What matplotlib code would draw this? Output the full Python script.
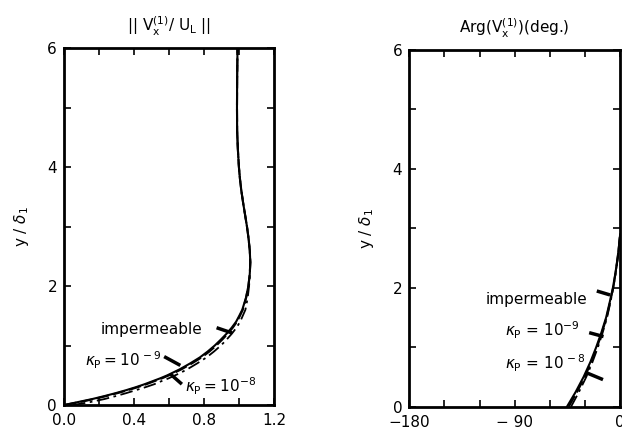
import matplotlib
matplotlib.use("Agg")
import matplotlib.pyplot as plt
import numpy as np

# ---- data: left panel |Vx/UL| vs y/delta1 ----
y_amp = [0.0, 0.05, 0.1, 0.15, 0.2, 0.25, 0.3, 0.35, 0.4, 0.45, 0.5, 0.55, 0.6, 0.7, 0.8, 0.9, 1.0,
         1.1, 1.2, 1.3, 1.4, 1.5, 1.6, 1.8, 2.0, 2.2, 2.4, 2.6, 2.8, 3.0, 3.2, 3.4, 3.6, 3.8, 4.0,
         4.3, 4.6, 5.0, 5.5, 6.0]
amp_imp = [0.0, 0.08, 0.16, 0.23, 0.295, 0.355, 0.41, 0.46, 0.505, 0.55, 0.59, 0.625, 0.66, 0.72,
           0.775, 0.82, 0.86, 0.895, 0.928, 0.957, 0.982, 1.0, 1.017, 1.038, 1.052, 1.06, 1.063,
           1.06, 1.053, 1.044, 1.033, 1.022, 1.012, 1.004, 0.998, 0.992, 0.988, 0.987, 0.988, 0.99]
amp_k9 = [0.0, 0.09, 0.17, 0.24, 0.305, 0.365, 0.42, 0.47, 0.515, 0.56, 0.60, 0.635, 0.67, 0.73,
          0.785, 0.83, 0.869, 0.903, 0.935, 0.963, 0.987, 1.004, 1.02, 1.039, 1.052, 1.06, 1.063,
          1.06, 1.053, 1.044, 1.033, 1.022, 1.012, 1.004, 0.998, 0.992, 0.988, 0.987, 0.988, 0.99]
amp_k8 = [0.05, 0.15, 0.23, 0.295, 0.355, 0.41, 0.465, 0.515, 0.555, 0.598, 0.635, 0.67, 0.703,
          0.76, 0.813, 0.856, 0.895, 0.928, 0.958, 0.984, 1.005, 1.02, 1.035, 1.048, 1.056, 1.061,
          1.063, 1.06, 1.053, 1.044, 1.033, 1.022, 1.012, 1.004, 0.998, 0.992, 0.988, 0.987, 0.988, 0.99]

# ---- data: right panel Arg(Vx) vs y/delta1 ----
y_arg = [0.0, 0.25, 0.5, 0.75, 1.0, 1.25, 1.5, 1.75, 2.0, 2.25, 2.5, 2.7, 2.9]
arg_imp = [-45.5, -38.0, -31.3, -25.5, -20.5, -16.0, -12.0, -9.0, -6.2, -4.0, -2.2, -1.0, 0.0]
arg_k9 = [-44.0, -36.8, -30.3, -24.7, -19.8, -15.5, -11.6, -8.7, -6.0, -3.9, -2.1, -1.0, 0.0]
arg_k8 = [-42.0, -35.2, -29.0, -23.7, -19.0, -14.9, -11.2, -8.4, -5.8, -3.8, -2.1, -1.0, 0.0]

labels = ["impermeable", r"$\kappa_\mathrm{P}=10^{\,-9}$", r"$\kappa_\mathrm{P}=10^{-8}$"]

plt.rcParams['font.family'] = ['DejaVu Sans']
plt.rcParams['mathtext.fontset'] = 'dejavusans'

fig = plt.figure(figsize=(6.22, 4.38), dpi=100)
ax1 = fig.add_axes([0.103, 0.0753, 0.338, 0.815])
ax2 = fig.add_axes([0.658, 0.071, 0.339, 0.815])

lw = 1.5
ax1.plot(amp_imp, y_amp, color='black', lw=lw, ls='-')
ax1.plot(amp_k9, y_amp, color='black', lw=lw, ls=(0, (6, 2)))
ax1.plot(amp_k8, y_amp, color='black', lw=1.3, ls=(0, (7, 2.5, 1.5, 2.5)))

ax2.plot(arg_imp, y_arg, color='black', lw=lw, ls='-')
ax2.plot(arg_k9, y_arg, color='black', lw=lw, ls=(0, (6, 2)))
ax2.plot(arg_k8, y_arg, color='black', lw=1.3, ls=(0, (7, 2.5, 1.5, 2.5)))

fs = 11
# annotations left
ax1.text(0.21, 1.27, labels[0], fontsize=fs, va='center', ha='left')
ax1.plot([0.88, 0.95], [1.29, 1.22], color='black', lw=2.5)
ax1.text(0.12, 0.76, labels[1], fontsize=fs, va='center', ha='left')
ax1.plot([0.58, 0.655], [0.80, 0.68], color='black', lw=2.5)
ax1.text(0.69, 0.32, labels[2], fontsize=fs, va='center', ha='left')
ax1.plot([0.615, 0.665], [0.50, 0.37], color='black', lw=2.5)

# annotations right
ax2.text(-115, 1.80, labels[0], fontsize=fs, va='center', ha='left')
ax2.plot([-18.5, -10], [1.94, 1.89], color='black', lw=2.5)
ax2.text(-98, 1.28, r"$\kappa_\mathrm{P}$ = $10^{-9}$", fontsize=fs, va='center', ha='left')
ax2.plot([-25, -15.6], [1.24, 1.19], color='black', lw=2.5)
ax2.text(-98, 0.74, r"$\kappa_\mathrm{P}$ = $10^{\,-8}$", fontsize=fs, va='center', ha='left')
ax2.plot([-27, -16], [0.56, 0.47], color='black', lw=2.5)

ax1.set_xlim(0, 1.2)
ax1.set_ylim(0, 6)
ax1.set_xticks(np.arange(0, 1.21, 0.2), minor=True)
ax1.set_xticks([0.0, 0.4, 0.8, 1.2])
ax1.set_xticklabels(["0.0", "0.4", "0.8", "1.2"])

ax2.set_xlim(-180, 0)
ax2.set_ylim(0, 6)
ax2.set_xticks(np.arange(-180, 1, 30), minor=True)
ax2.set_xticks([-180, -90, 0])
ax2.set_xticklabels(["\u2212180", "\u2212 90", "0"])

for ax in (ax1, ax2):
    ax.set_yticks([0, 2, 4, 6])
    ax.set_yticks(np.arange(0, 6.1, 1), minor=True)
    ax.tick_params(which='both', direction='in', top=True, right=True,
                   length=5, width=1.2, labelsize=fs)
    ax.tick_params(axis='x', pad=6)
    ax.tick_params(axis='y', pad=5)
    for s in ax.spines.values():
        s.set_linewidth(2)
    ax.set_ylabel(r"y / $\delta_1$", fontsize=fs, labelpad=12)

ax1.set_title(r"|| V$_\mathrm{x}^{(1)}$/ U$_\mathrm{L}$ ||", fontsize=fs, pad=12)
ax2.set_title(r"Arg(V$_\mathrm{x}^{(1)}$)(deg.)", fontsize=fs, pad=12)

fig.savefig("out.png", dpi=100)
